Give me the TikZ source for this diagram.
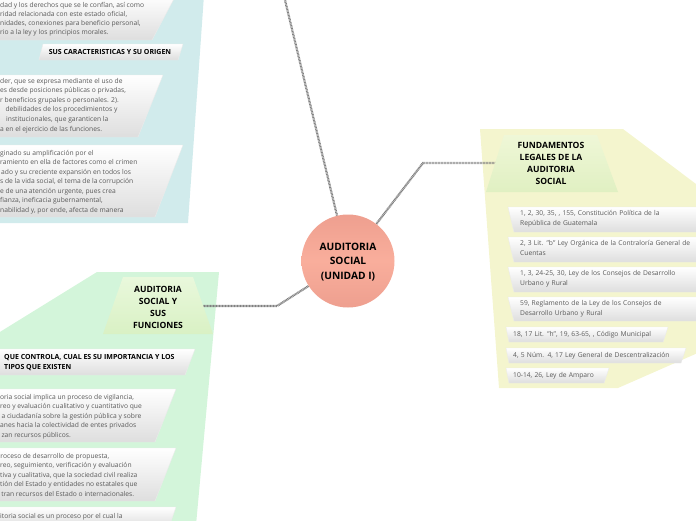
\documentclass[tikz,border=0pt]{standalone}
\usepackage{fontspec}
\setmainfont{Open Sans}
\definecolor{tealbg}{HTML}{D1EBEC}
\definecolor{greenbg}{HTML}{D3F5DA}
\definecolor{yellowbg}{HTML}{F4F5CE}
\definecolor{txtgray}{HTML}{5A5A5A}
\definecolor{salmA}{HTML}{EE9F8F}
\definecolor{salmB}{HTML}{F9AE9C}
\definecolor{limeA}{HTML}{EFF7D7}
\definecolor{limeB}{HTML}{E0F0C2}
\definecolor{grnA}{HTML}{E9F8DC}
\definecolor{grnB}{HTML}{D9F1C4}
\tikzset{
  leafbox/.style={top color=white, bottom color=black!13, draw=black!8, line width=0.4pt},
  headbox/.style={top color=limeA, bottom color=limeB},
  audbox/.style={top color=grnA, bottom color=grnB},
  bodytxt/.style={font=\fontsize{6.7}{9.5}\selectfont, text=txtgray, align=left, text width=215pt, inner sep=0pt, anchor=north west},
  linetxt/.style={font=\fontsize{6.7}{9.5}\selectfont, text=txtgray, inner sep=0pt, anchor=base west},
  smallhead/.style={font=\fontsize{7}{10}\bfseries\selectfont, text=black, align=left, inner sep=0pt},
  headtxt/.style={font=\fontsize{8.6}{12}\bfseries\selectfont, text=black, align=center, inner sep=0pt},
  conn/.style={draw=black!50, line width=2.2pt, dash pattern=on 0.9pt off 0.6pt},
}
\newcommand\tline[4]{\node[linetxt] (#1) at (#2,#3) {#4};}
\begin{document}
\begin{tikzpicture}[x=1pt,y=-1pt]
\useasboundingbox (0,0) rectangle (696,520);
\clip (0,0) rectangle (696,520);

% ---------- background regions ----------
\fill[tealbg] (-5,-5) -- (204,-5) -- (188,223) -- (-5,223) -- cycle;
\fill[greenbg] (97,272) -- (219,272) -- (196,525) -- (-5,525) -- (-5,335) -- cycle;
\fill[yellowbg] (480,129) -- (623,129) -- (700,187) -- (700,352) -- (618,388) -- (499,388) -- cycle;

% ---------- connectors ----------
\node[circle, minimum size=93pt, inner sep=0pt] (root) at (348,261) {};
\coordinate (topend) at (284,-4);
\coordinate (b2) at (423,163);
\coordinate (b3) at (277,306);
\node[minimum width=108pt, minimum height=57pt, inner sep=0pt] (fund) at (551,163) {};
\node[minimum width=90pt, minimum height=57pt, inner sep=0pt] (aud) at (158,306) {};
\draw[conn] (root) -- (topend);
\draw[conn] (root) -- (b2) -- (fund.west);
\draw[conn] (root) -- (b3) -- (aud.east);

% ---------- root ----------
\shade[top color=salmA, bottom color=salmA, middle color=salmB] (root.center) circle (46.5pt);
\node[font=\fontsize{10.2}{14.7}\bfseries\selectfont, align=center, inner sep=0pt] (roottxt) at (348,262) {AUDITORIA\\SOCIAL\\ (UNIDAD I)};

% ---------- teal side ----------
\shade[leafbox] (-5,-5) -- (176,-5) -- (152,40) -- (-5,40) -- cycle;
\tline{t1a}{0}{7.1}{dad y los derechos que se le confían, así como}
\tline{t1b}{0}{16.2}{ridad relacionada con este estado oficial,}
\tline{t1c}{0}{25.3}{nidades, conexiones para beneficio personal,}
\tline{t1d}{0}{34.4}{rio a la ley y los principios morales.}

\shade[leafbox] (43,44) -- (183,44) -- (178,60) -- (39,60) -- cycle;
\node[smallhead] (t2) at (110,52) {SUS CARACTERISTICAS Y SU ORIGEN};

\shade[leafbox] (-5,75) -- (163,75) -- (138,137) -- (-5,137) -- cycle;
\tline{t3a}{0}{83}{der, que se expresa mediante el uso de}
\tline{t3b}{0}{92.6}{es desde posiciones públicas o privadas,}
\tline{t3c}{0}{102.2}{r beneficios grupales o personales. 2).}
\tline{t3d}{5.3}{111.8}{debilidades de los procedimientos y}
\tline{t3e}{6}{121.4}{institucionales, que garanticen la}
\tline{t3f}{0}{131}{a en el ejercicio de las funciones.}

\shade[leafbox] (-5,145) -- (183,145) -- (155,217) -- (-5,217) -- cycle;
\tline{t4a}{0}{155.2}{ginado su amplificación por el}
\tline{t4b}{0}{164.7}{ramiento en ella de factores como el crimen}
\tline{t4c}{1}{174.2}{ado y su creciente expansión en todos los}
\tline{t4d}{0}{183.7}{s de la vida social, el tema de la corrupción}
\tline{t4e}{0}{193.2}{e de una atención urgente, pues crea}
\tline{t4f}{0}{202.7}{fianza, ineficacia gubernamental,}
\tline{t4g}{0}{212.2}{nabilidad y, por ende, afecta de manera}

% ---------- green side ----------
\shade[audbox] (123,277) -- (193,277) -- (213,334) -- (103,334) -- cycle;
\node[headtxt] (audtxt) at (158,307.5) {AUDITORIA\\SOCIAL Y\\SUS\\FUNCIONES};

\shade[leafbox] (-5,349) -- (195,349) -- (185,375) -- (-5,375) -- cycle;
\node[smallhead, anchor=base west] (t5) at (4,359.6) {QUE CONTROLA, CUAL ES SU IMPORTANCIA Y LOS};
\node[smallhead, anchor=base west] (t5b) at (4,369.6) {TIPOS QUE EXISTEN};

\shade[leafbox] (-5,389) -- (176,389) -- (155,442) -- (-5,442) -- cycle;
\tline{t6a}{0}{399}{oria social implica un proceso de vigilancia,}
\tline{t6b}{0}{408.6}{reo y evaluación cualitativo y cuantitativo que}
\tline{t6c}{1.4}{418.2}{a ciudadanía sobre la gestión pública y sobre}
\tline{t6d}{0}{427.8}{anes hacia la colectividad de entes privados}
\tline{t6e}{1.4}{437.4}{zan recursos públicos.}

\shade[leafbox] (-5,448) -- (176,448) -- (155,501) -- (-5,501) -- cycle;
\tline{t7a}{0.3}{458}{roceso de desarrollo de propuesta,}
\tline{t7b}{0}{467.5}{reo, seguimiento, verificación y evaluación}
\tline{t7c}{0}{477}{tiva y cualitativa, que la sociedad civil realiza}
\tline{t7d}{0}{486.5}{tión del Estado y entidades no estatales que}
\tline{t7e}{1.2}{496}{tran recursos del Estado o internacionales.}

\shade[leafbox] (-5,507) -- (176,507) -- (169,527) -- (-5,527) -- cycle;
\tline{t8}{0}{518}{itoria social es un proceso por el cual la}

% ---------- yellow side ----------
\shade[headbox] (504,135) -- (597,135) -- (618,192) -- (486,192) -- cycle;
\node[headtxt] (fundtxt) at (551,163.5) {FUNDAMENTOS\\LEGALES DE LA\\AUDITORIA\\SOCIAL};

\shade[leafbox] (508,207) -- (700,207) -- (700,232) -- (514,232) -- cycle;
\node[bodytxt] (r1) at (520,210.5) {1, 2, 30, 35, , 155, Constitución Política de la\\República de Guatemala};
\shade[leafbox] (508,237) -- (700,237) -- (700,262) -- (514,262) -- cycle;
\node[bodytxt] (r2) at (520,240.5) {2, 3 Lit. "b" Ley Orgánica de la Contraloría General de\\Cuentas};
\shade[leafbox] (508,267) -- (700,267) -- (700,292) -- (514,292) -- cycle;
\node[bodytxt] (r3) at (520,270.5) {1, 3, 24-25, 30, Ley de los Consejos de Desarrollo\\Urbano y Rural};
\shade[leafbox] (508,297) -- (700,297) -- (700,321) -- (514,321) -- cycle;
\node[bodytxt] (r4) at (520,300.5) {59, Reglamento de la Ley de los Consejos de\\Desarrollo Urbano y Rural};
\shade[leafbox] (506,327) -- (668,327) -- (663,342) -- (509,342) -- cycle;
\node[bodytxt, anchor=west] (r5) at (513,334.5) {18, 17 Lit. "h", 19, 63-65, , Código Municipal};
\shade[leafbox] (506,348) -- (686,348) -- (681,363) -- (509,363) -- cycle;
\node[bodytxt, anchor=west] (r6) at (513,355.5) {4, 5 Núm. 4, 17 Ley General de Descentralización};
\shade[leafbox] (506,368) -- (609,368) -- (604,383) -- (509,383) -- cycle;
\node[bodytxt, anchor=west] (r7) at (513,375.5) {10-14, 26, Ley de Amparo};
\end{tikzpicture}
\end{document}
